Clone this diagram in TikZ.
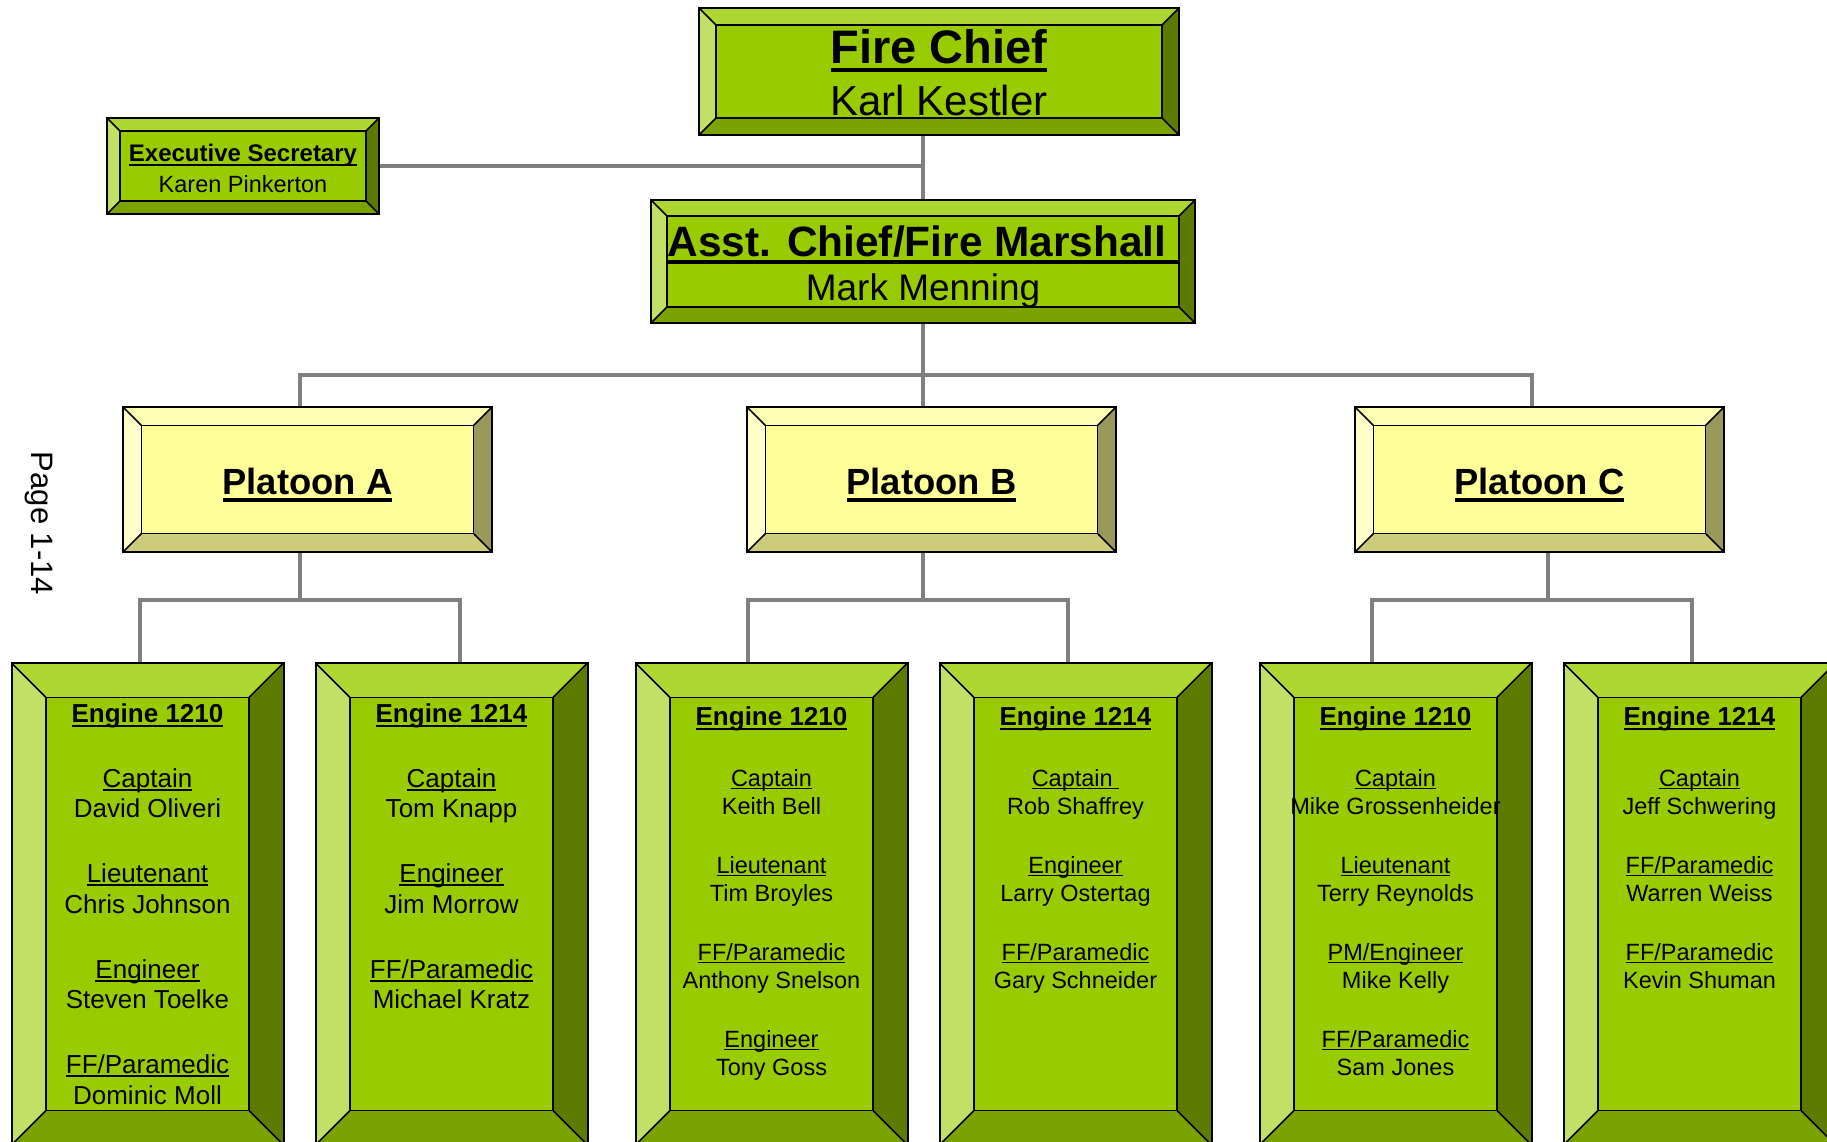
\documentclass[tikz,border=0pt]{standalone}
\usepackage{fontspec}
\setmainfont{Liberation Sans}
\usetikzlibrary{calc,backgrounds}

% bevel palettes
\definecolor{gFace}{HTML}{99CC00}
\definecolor{gTop}{HTML}{ADD633}
\definecolor{gLeft}{HTML}{C2E066}
\definecolor{gRight}{HTML}{5C7A00}
\definecolor{gBot}{HTML}{7AA300}
\definecolor{yFace}{HTML}{FFFF99}
\definecolor{yTop}{HTML}{FFFFB3}
\definecolor{yLeft}{HTML}{FFFFCC}
\definecolor{yRight}{HTML}{99995C}
\definecolor{yBot}{HTML}{CCCC7A}
\definecolor{linkgray}{HTML}{808080}

\tikzset{
  frameline/.style={draw=black, line width=2pt, line join=miter},
  seamline/.style={draw=black, line width=1.5pt},
  link/.style={draw=linkgray, line width=4pt, line join=miter},
  boxnode/.style={inner sep=0pt, outer sep=0pt},
  boxtext/.style={inner sep=0pt, outer sep=0pt, anchor=base, text=black},
}

% #1 name, #2 x, #3 y (centre), #4 width, #5 height, #6 bevel, #7 palette prefix
\newcommand\bevelbox[7]{%
  \node[boxnode, minimum width=#4pt, minimum height=#5pt] (#1) at (#2,#3) {};
  \coordinate (#1-a) at ([xshift=#6pt,yshift=-#6pt]#1.north west);
  \coordinate (#1-b) at ([xshift=-#6pt,yshift=-#6pt]#1.north east);
  \coordinate (#1-c) at ([xshift=-#6pt,yshift=#6pt]#1.south east);
  \coordinate (#1-d) at ([xshift=#6pt,yshift=#6pt]#1.south west);
  \fill[fill=#7Top] (#1.north west) -- (#1.north east) -- (#1-b) -- (#1-a) -- cycle;
  \fill[fill=#7Left] (#1.north west) -- (#1-a) -- (#1-d) -- (#1.south west) -- cycle;
  \fill[fill=#7Right] (#1.north east) -- (#1.south east) -- (#1-c) -- (#1-b) -- cycle;
  \fill[fill=#7Bot] (#1.south west) -- (#1-d) -- (#1-c) -- (#1.south east) -- cycle;
  \fill[fill=#7Face] (#1-a) rectangle (#1-c);
  \draw[seamline] (#1.north west) -- (#1-a) (#1.north east) -- (#1-b)
                  (#1.south east) -- (#1-c) (#1.south west) -- (#1-d);
  \draw[seamline] (#1-a) rectangle (#1-c);
  \draw[frameline] (#1.north west) rectangle (#1.south east);
}

% underlined words: regular and bold weights
\newcommand\undl[1]{\setbox0=\hbox{#1}\rlap{\rule[-0.14em]{\wd0}{0.065em}}\box0}
\newcommand\undb[1]{\setbox0=\hbox{#1}\rlap{\rule[-0.2em]{\wd0}{0.095em}}\box0}
% centred stack of lines: #1 font size, #2 line pitch, #3 rows
\newcommand\stack[3]{\vtop{\fontsize{#1}{#2}\selectfont\lineskiplimit=-100pt\relax
  \halign{\hfil##\hfil\cr#3\crcr}}}
\newcommand\gap[1]{\noalign{\vskip#1pt}}
\newcommand\engt[1]{\fontsize{26}{28}\bfseries\selectfont\undb{#1}}

\begin{document}
\begin{tikzpicture}[x=1pt,y=-1pt]
\path[use as bounding box] (0,0) rectangle (1827,1141);
\clip (0,0) rectangle (1827,1141);

% ---- boxes ----
\bevelbox{fc}{939}{71.5}{480}{127}{17}{g}
\bevelbox{es}{243}{166}{272}{96}{13}{g}
\bevelbox{ac}{923}{261.5}{544}{123}{16}{g}

\bevelbox{pa}{307.5}{479.5}{369}{145}{18.5}{y}
\bevelbox{pb}{931.5}{479.5}{369}{145}{18.5}{y}
\bevelbox{pc}{1539.5}{479.5}{369}{145}{18.5}{y}

\bevelbox{e1}{147.5}{904}{272}{482}{34.5}{g}
\bevelbox{e2}{451.5}{904}{272}{482}{34.5}{g}
\bevelbox{e3}{771.5}{904}{272}{482}{34.5}{g}
\bevelbox{e4}{1075.5}{904}{272}{482}{34.5}{g}
\bevelbox{e5}{1395.5}{904}{272}{482}{34.5}{g}
\bevelbox{e6}{1699.5}{904}{272}{482}{34.5}{g}

% ---- connectors ----
\coordinate (busL) at (300,375);
\coordinate (busR) at (1531.5,375);
\coordinate (jA) at (300,600);
\coordinate (jB) at (923,600);
\coordinate (jC) at (1548,600);
\coordinate (d1) at (139.5,600);
\coordinate (d2) at (460,600);
\coordinate (d3) at (747.5,600);
\coordinate (d4) at (1067.5,600);
\coordinate (d5) at (1372,600);
\coordinate (d6) at (1692,600);
\begin{pgfonlayer}{background}
  \draw[link] (fc.south -| ac.north) -- (ac.north);
  \draw[link] (es.east) -- (es.east -| ac.north);
  \draw[link] (ac.south) -- (ac.south |- busL);
  \draw[link] (busL |- pa.north) -- (busL) -- (busR) -- (busR |- pc.north);
  \draw[link] (ac.south |- busL) -- (ac.south |- pb.north);
  \draw[link] (jA |- pa.south) -- (jA);
  \draw[link] (jB |- pb.south) -- (jB);
  \draw[link] (jC |- pc.south) -- (jC);
  \draw[link] (d1 |- e1.north) -- (d1) -- (d2) -- (d2 |- e2.north);
  \draw[link] (d3 |- e3.north) -- (d3) -- (d4) -- (d4 |- e4.north);
  \draw[link] (d5 |- e5.north) -- (d5) -- (d6) -- (d6 |- e6.north);
\end{pgfonlayer}

% divider under the assistant chief title
\coordinate (acrule) at (0,262);
\draw[line width=4pt] (ac-a |- acrule) -- (ac-b |- acrule);

% ---- texts ----
\node[boxtext] (fct) at (939,63) {\stack{42}{52}{\fontsize{47}{52}\bfseries\selectfont\undb{Fire Chief}\cr
  Karl Kestler\cr}};
\node[boxtext] (est) at (243,161.5) {\stack{23.5}{30.5}{\fontsize{24}{30}\bfseries\selectfont\undb{Executive Secretary}\cr
  Karen Pinkerton\cr}};
\node[boxtext] (act) at (923,256) {\stack{37}{44}{\fontsize{42.4}{41}\bfseries\selectfont Asst. Chief/Fire Marshall\ \cr
  Mark Menning\cr}};

\node[boxtext] (pat) at (307.5,494.3) {\fontsize{36.4}{40}\bfseries\selectfont\undb{Platoon A}};
\node[boxtext] (pbt) at (931.5,494.3) {\fontsize{36.4}{40}\bfseries\selectfont\undb{Platoon B}};
\node[boxtext] (pct) at (1539.5,494.3) {\fontsize{36.4}{40}\bfseries\selectfont\undb{Platoon C}};

\node[boxtext] (e1t) at (147.5,722) {\stack{26}{30.5}{\engt{Engine 1210}\cr\gap{34.5}
  \undl{Captain}\cr David Oliveri\cr\gap{34.5}
  \undl{Lieutenant}\cr Chris Johnson\cr\gap{34.5}
  \undl{Engineer}\cr Steven Toelke\cr\gap{34.5}
  \undl{FF/Paramedic}\cr Dominic Moll\cr}};
\node[boxtext] (e2t) at (451.5,722) {\stack{26}{30.5}{\engt{Engine 1214}\cr\gap{34.5}
  \undl{Captain}\cr Tom Knapp\cr\gap{34.5}
  \undl{Engineer}\cr Jim Morrow\cr\gap{34.5}
  \undl{FF/Paramedic}\cr Michael Kratz\cr}};
\node[boxtext] (e3t) at (771.5,725) {\stack{23.5}{28}{\engt{Engine 1210}\cr\gap{33}
  \undl{Captain}\cr Keith Bell\cr\gap{31}
  \undl{Lieutenant}\cr Tim Broyles\cr\gap{31}
  \undl{FF/Paramedic}\cr Anthony Snelson\cr\gap{31}
  \undl{Engineer}\cr Tony Goss\cr}};
\node[boxtext] (e4t) at (1075.5,725) {\stack{23.5}{28}{\engt{Engine 1214}\cr\gap{33}
  \undl{Captain\ }\cr Rob Shaffrey\cr\gap{31}
  \undl{Engineer}\cr Larry Ostertag\cr\gap{31}
  \undl{FF/Paramedic}\cr Gary Schneider\cr}};
\node[boxtext] (e5t) at (1395.5,725) {\stack{23.5}{28}{\engt{Engine 1210}\cr\gap{33}
  \undl{Captain}\cr Mike Grossenheider\cr\gap{31}
  \undl{Lieutenant}\cr Terry Reynolds\cr\gap{31}
  \undl{PM/Engineer}\cr Mike Kelly\cr\gap{31}
  \undl{FF/Paramedic}\cr Sam Jones\cr}};
\node[boxtext] (e6t) at (1699.5,725) {\stack{23.5}{28}{\engt{Engine 1214}\cr\gap{33}
  \undl{Captain}\cr Jeff Schwering\cr\gap{31}
  \undl{FF/Paramedic}\cr Warren Weiss\cr\gap{31}
  \undl{FF/Paramedic}\cr Kevin Shuman\cr}};

% page number along the left margin
\node[inner sep=0pt, rotate=-90, font=\fontsize{31}{31}\selectfont] (pg) at (39,523.5) {Page 1-14};
\end{tikzpicture}
\end{document}
